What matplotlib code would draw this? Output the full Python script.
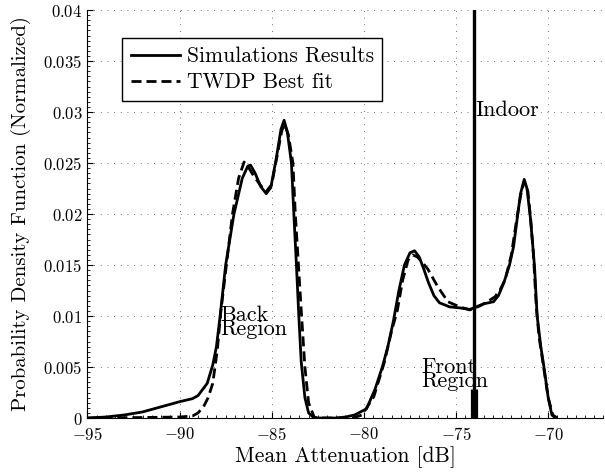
import matplotlib
matplotlib.use("Agg")
import matplotlib.pyplot as plt
from matplotlib.ticker import MultipleLocator, FuncFormatter

# Simulation results (solid)
sim_x = [-95.0, -94.0, -93.0, -92.0, -91.0, -90.0, -89.3, -89.0, -88.5, -88.2,
         -88.0, -87.8, -87.5, -87.05, -86.6, -86.3, -86.15, -85.9, -85.6, -85.3,
         -85.05, -84.75, -84.5, -84.33, -84.15, -83.93, -83.8, -83.66, -83.53, -83.4,
         -83.2, -83.0, -82.7, -81.5, -81.0, -80.5, -79.86, -79.4, -79.0, -78.7,
         -78.4, -78.1, -77.8, -77.5, -77.25, -77.0, -76.75, -76.5, -76.2, -75.9,
         -75.35, -74.8, -74.25, -73.9, -73.5, -72.97, -72.7, -72.4, -72.1, -71.88,
         -71.65, -71.5, -71.3, -71.15, -70.97, -70.84, -70.74, -70.6, -70.4, -70.23,
         -70.0, -69.8, -69.6]
sim_y = [0.0, 0.0001, 0.0003, 0.0006, 0.0011, 0.0016, 0.0019, 0.0022, 0.0034, 0.0052,
         0.0070, 0.0100, 0.0150, 0.0200, 0.0235, 0.0247, 0.0248, 0.0240, 0.0227, 0.0220,
         0.0226, 0.0255, 0.0283, 0.0292, 0.0280, 0.0250, 0.0200, 0.0150, 0.0100, 0.0055,
         0.0020, 0.0005, 0.0, 0.0, 0.0001, 0.0003, 0.0009, 0.0028, 0.0050, 0.0070,
         0.0095, 0.0125, 0.0150, 0.0162, 0.0164, 0.0158, 0.0146, 0.0133, 0.0120, 0.0113,
         0.0109, 0.0108, 0.01065, 0.0109, 0.0112, 0.0114, 0.0120, 0.0133, 0.0150, 0.0168,
         0.0200, 0.0220, 0.0234, 0.0225, 0.0197, 0.0170, 0.0148, 0.0100, 0.0070, 0.0050,
         0.0020, 0.0003, 0.0]

# TWDP best fit (dashed)
fit_x = [-95.0, -92.0, -90.0, -89.3, -89.0, -88.7, -88.45, -88.2, -87.95, -87.77,
         -87.46, -87.13, -86.8, -86.5, -86.3, -86.0, -85.6, -85.3, -85.0, -84.7,
         -84.45, -84.3, -84.1, -83.85, -83.72, -83.55, -83.38, -83.2, -83.0, -82.7,
         -82.5, -80.6, -80.1, -79.46, -78.9, -78.5, -78.18, -77.9, -77.6, -77.36,
         -77.1, -76.8, -76.53, -76.0, -75.44, -74.8, -74.25, -73.7, -73.3, -72.88,
         -72.6, -72.33, -72.0, -71.75, -71.5, -71.3, -71.1, -70.95, -70.8, -70.65,
         -70.5, -70.25, -70.0, -69.75, -69.5]
fit_y = [0.0, 0.00005, 0.0001, 0.0002, 0.0005, 0.0011, 0.0020, 0.0034, 0.0067, 0.0103,
         0.0150, 0.0200, 0.0235, 0.0251, 0.0247, 0.0238, 0.0228, 0.0222, 0.0229, 0.0258,
         0.0282, 0.0288, 0.0278, 0.0250, 0.0200, 0.0150, 0.0100, 0.0050, 0.0015, 0.0001,
         0.0, 0.0, 0.0003, 0.0021, 0.0054, 0.0085, 0.0106, 0.0135, 0.0155, 0.0160,
         0.0158, 0.0152, 0.0146, 0.0129, 0.0114, 0.0109, 0.0106, 0.0110, 0.0114, 0.0119,
         0.0126, 0.0136, 0.0160, 0.0190, 0.0218, 0.0232, 0.0222, 0.0195, 0.0160, 0.0110,
         0.0080, 0.0050, 0.0020, 0.0003, 0.0]

# Indoor spike: a very tall narrow peak, clipped by the y limit
indoor_pos = -74.04
indoor_top = 0.5
indoor_base_top = 0.0028

x_ticks = [-95, -90, -85, -80, -75, -70]
y_ticks = [0, 0.005, 0.01, 0.015, 0.02, 0.025, 0.03, 0.035, 0.04]

plt.rcParams['font.family'] = 'serif'
plt.rcParams['font.serif'] = ['cmr10', 'DejaVu Serif']
plt.rcParams['mathtext.fontset'] = 'cm'
plt.rcParams['axes.unicode_minus'] = False

fig = plt.figure(figsize=(6.05, 4.76), dpi=100)
ax = fig.add_axes([0.1445, 0.1218, 0.853, 0.857])

ax.plot(sim_x, sim_y, color='black', lw=2.0, label='Simulations Results')
ax.plot(fit_x, fit_y, color='black', lw=2.0, ls=(0, (3.6, 1.8)), label='TWDP Best fit')
ax.vlines(indoor_pos, 0, indoor_top, color='black', lw=2.4)
ax.vlines(indoor_pos, 0, indoor_base_top, color='black', lw=5.2)

ax.set_xlim(-95, -67)
ax.set_ylim(0, 0.04)
ax.set_xticks(x_ticks)
ax.set_yticks(y_ticks)
ax.xaxis.set_major_formatter(FuncFormatter(lambda v, p: f'${v:g}$'))
ax.yaxis.set_major_formatter(FuncFormatter(lambda v, p: f'${v:g}$'))
ax.xaxis.set_minor_locator(MultipleLocator(0.5))
ax.yaxis.set_minor_locator(MultipleLocator(0.0005))
ax.tick_params(axis='both', which='both', direction='in', labelsize=12,
               top=False, right=False)
ax.tick_params(axis='x', which='major', pad=6)
ax.tick_params(which='major', length=4, width=0.8)
ax.tick_params(which='minor', length=2, width=0.6)

for s in ['top', 'right']:
    ax.spines[s].set_visible(False)

ax.grid(True, color='0.25', lw=0.6, ls=(0, (1, 7)))

ax.set_xlabel('Mean Attenuation [dB]', fontsize=15.5, labelpad=2)
ax.set_ylabel('Probability Density Function (Normalized)', fontsize=15, labelpad=9)

ax.text(-73.95, 0.0302, 'Indoor', fontsize=16, va='center', ha='left')
ax.text(-87.8, 0.011, 'Back\nRegion', fontsize=16, va='top', ha='left',
        linespacing=0.65)
ax.text(-76.9, 0.0059, 'Front\nRegion', fontsize=16, va='top', ha='left',
        linespacing=0.65)

leg = ax.legend(loc='upper left', bbox_to_anchor=(0.067, 0.931), fontsize=15.5,
                fancybox=False, framealpha=1, edgecolor='black',
                handlelength=2.3, handletextpad=0.3, borderpad=0.4,
                labelspacing=0.3, borderaxespad=0)
leg.get_frame().set_linewidth(1.0)

fig.savefig('out.png', dpi=100)
